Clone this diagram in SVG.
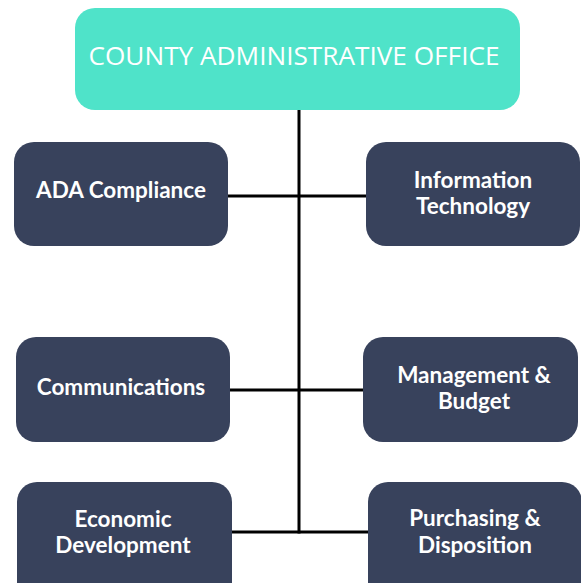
<svg xmlns="http://www.w3.org/2000/svg" width="581" height="583" viewBox="0 0 581 583">
<style>
.box{fill:#38425c}
.top{fill:#4fe3c9}
.t{font-family:Lato,"Open Sans","Liberation Sans",sans-serif;font-weight:bold;font-size:22.5px;fill:#ffffff;text-anchor:middle}
.title{font-family:"Open Sans","Liberation Sans",sans-serif;font-size:26px;fill:#ffffff;text-anchor:middle}
.c{stroke:#000000;stroke-width:3;fill:none}
</style>
<rect width="581" height="583" fill="#ffffff"/>
<g id="connectors">
<line class="c" x1="299" y1="110" x2="299" y2="533.5"/>
<line class="c" x1="228" y1="196" x2="366" y2="196"/>
<line class="c" x1="230" y1="390" x2="363" y2="390"/>
<line class="c" x1="232" y1="532" x2="368" y2="532"/>
</g>
<g id="county-administrative-office">
<rect class="top" x="75" y="8" width="445" height="102" rx="20"/>
<text class="title" x="294" y="65" textLength="411" lengthAdjust="spacingAndGlyphs">COUNTY ADMINISTRATIVE OFFICE</text>
</g>
<g id="ada-compliance">
<rect class="box" x="14" y="142" width="214" height="104" rx="20"/>
<text class="t" x="121" y="198">ADA Compliance</text>
</g>
<g id="information-technology">
<rect class="box" x="366" y="142" width="214" height="104" rx="20"/>
<text class="t" x="473" y="188">Information</text>
<text class="t" x="473" y="214">Technology</text>
</g>
<g id="communications">
<rect class="box" x="16" y="337" width="214" height="105" rx="20"/>
<text class="t" x="121" y="395">Communications</text>
</g>
<g id="management-budget">
<rect class="box" x="363" y="337" width="215" height="105" rx="20"/>
<text class="t" x="474" y="383">Management &amp;</text>
<text class="t" x="474" y="409">Budget</text>
</g>
<g id="economic-development">
<rect class="box" x="17" y="482" width="215" height="120" rx="20"/>
<text class="t" x="123" y="527">Economic</text>
<text class="t" x="123" y="553">Development</text>
</g>
<g id="purchasing-disposition">
<rect class="box" x="368" y="482" width="214" height="120" rx="20"/>
<text class="t" x="475" y="526">Purchasing &amp;</text>
<text class="t" x="475" y="553">Disposition</text>
</g>
</svg>
